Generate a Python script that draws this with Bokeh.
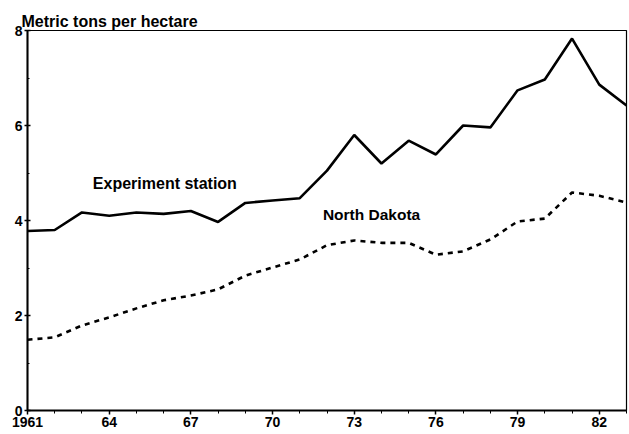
from bokeh.plotting import figure
from bokeh.models import FixedTicker, Range1d
from bokeh.core.properties import value
from bokeh.embed import file_html
from bokeh.resources import INLINE

years = list(range(1961, 1984))
experiment_station = [3.78, 3.80, 4.17, 4.10, 4.17, 4.14, 4.20, 3.97, 4.37, 4.42, 4.47,
                      5.05, 5.80, 5.20, 5.68, 5.39, 6.00, 5.96, 6.74, 6.97, 7.83, 6.86, 6.42]
north_dakota = [1.49, 1.54, 1.79, 1.96, 2.15, 2.32, 2.42, 2.55, 2.84, 3.01, 3.18,
                3.48, 3.58, 3.53, 3.53, 3.28, 3.35, 3.60, 3.98, 4.04, 4.59, 4.52, 4.38]
x_tick_values = [1961, 1964, 1967, 1970, 1973, 1976, 1979, 1982]
x_tick_labels = ["1961", "64", "67", "70", "73", "76", "79", "82"]
y_tick_values = [0, 2, 4, 6, 8]
y_label = "Metric tons per hectare"
series_labels = ["Experiment station", "North Dakota"]
label_pos = [(1963.4, 4.78), (1971.85, 4.13)]
label_sizes = ["16px", "15.5px"]

FONT = "Liberation Sans"

p = figure(width=628, height=434, output_backend="svg", toolbar_location=None,
           x_range=Range1d(1961, 1983), y_range=Range1d(0, 8),
           min_border_left=27, min_border_right=2, min_border_top=30, min_border_bottom=24,
           title=y_label)
p.title.text_font = FONT
p.title.text_font_size = "16px"
p.title.text_font_style = "bold"
p.title.text_color = "black"
p.title.offset = -6
p.title.standoff = 1
p.title.align = "left"

p.grid.visible = False
p.outline_line_color = "black"
p.outline_line_width = 1.2
p.background_fill_color = "white"
p.border_fill_color = "white"

p.line(years, experiment_station, line_color="black", line_width=2.6)
p.line(years, north_dakota, line_color="black", line_width=2.6, line_dash="5 5")

for (tx, ty), t, fs in zip(label_pos, series_labels, label_sizes):
    p.text(x=[tx], y=[ty], text=[t], text_font=value(FONT), text_font_style="bold",
           text_font_size=fs, text_baseline="middle", text_align="left", text_color="black")

xa = p.xaxis[0]
xa.ticker = FixedTicker(ticks=x_tick_values, minor_ticks=years)
xa.major_label_overrides = {v: l for v, l in zip(x_tick_values, x_tick_labels)}
xa.axis_line_width = 2
xa.axis_line_color = "black"
xa.major_tick_in = 0
xa.major_tick_out = 4
xa.minor_tick_in = 0
xa.minor_tick_out = 3
xa.major_tick_line_width = 1.5
xa.major_tick_line_color = "black"
xa.minor_tick_line_color = "black"
xa.major_label_standoff = 2
xa.major_label_text_font = FONT
xa.major_label_text_font_style = "bold"
xa.major_label_text_font_size = "14px"
xa.major_label_text_color = "black"

ya = p.yaxis[0]
ya.ticker = FixedTicker(ticks=y_tick_values, minor_ticks=[1, 3, 5, 7])
ya.axis_line_width = 2
ya.axis_line_color = "black"
ya.major_tick_in = 3
ya.major_tick_out = 3
ya.minor_tick_in = 2
ya.minor_tick_out = 0
ya.major_tick_line_width = 1.5
ya.major_tick_line_color = "black"
ya.minor_tick_line_color = "black"
ya.major_label_standoff = 2
ya.major_label_text_font = FONT
ya.major_label_text_font_style = "bold"
ya.major_label_text_font_size = "14px"
ya.major_label_text_color = "black"

open("out.html", "w").write(file_html(p, INLINE))
